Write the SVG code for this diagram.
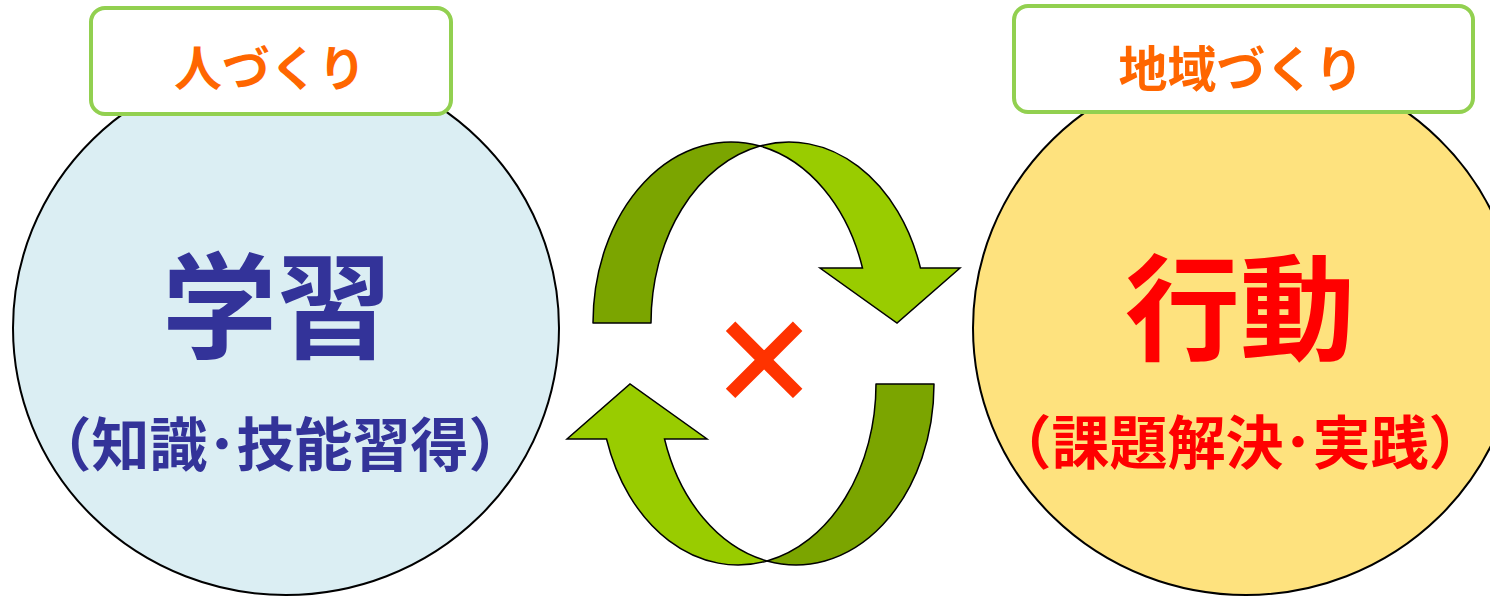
<svg xmlns="http://www.w3.org/2000/svg" width="1490" height="598" viewBox="0 0 1490 598">
<defs>
<style>
.circle{stroke:#000;stroke-width:2}
.label-box{fill:#fff;stroke:#92D050;stroke-width:4}
.jp{font-family:"Noto Sans CJK JP","Noto Sans CJK SC",sans-serif;font-weight:bold;text-anchor:middle;dominant-baseline:central}
.tag{font-size:48px;fill:#FF6600}
.big{font-size:115px}
.sub{font-size:58px}
.navy{fill:#333399}
.red{fill:#FF0000}
.dark{fill:#7BA500;stroke:#000;stroke-width:1.5;stroke-linejoin:round}
.light{fill:#99CC00;stroke:#000;stroke-width:1.5;stroke-linejoin:miter}
</style>
<g id="arrowShape">
<path class="dark" d="M 593,323 A 138 181 0 0 1 760,146.04 A 138 181 0 0 0 651,323 Z"/>
<path class="light" d="M 760,146.04 A 138 181 0 0 1 920.47,268 L 960,268 L 897,323 L 820,268 L 862.47,268 A 138 181 0 0 0 760,146.04 Z"/>
</g>
</defs>
<g id="node-learning">
<ellipse class="circle" cx="286" cy="328" rx="273" ry="267" fill="#DBEEF3"/>
<text class="jp big navy" x="277" y="299">学習</text>
<text class="jp sub navy" x="280" y="441">（知識･技能習得）</text>
</g>
<g id="node-action">
<ellipse class="circle" cx="1246" cy="328" rx="273" ry="267" fill="#FEE27E"/>
<text class="jp big red" x="1240" y="301">行動</text>
<text class="jp sub red" x="1240" y="439">（課題解決･実践）</text>
</g>
<g id="node-hitozukuri">
<rect class="label-box" x="91" y="8" width="360" height="106" rx="14"/>
<text class="jp tag" x="270" y="65">人づくり</text>
</g>
<g id="node-chiikizukuri">
<rect class="label-box" x="1014" y="6" width="459" height="106" rx="14"/>
<text class="jp tag" x="1241" y="65" style="font-size:49px">地域づくり</text>
</g>
<g id="node-times">
<text class="jp" x="764" y="354" font-size="112" fill="#FF3300" stroke="#FF3300" stroke-width="2">×</text>
</g>
<g id="connectors">
<use href="#arrowShape"/>
<use href="#arrowShape" transform="rotate(180 763.5 353.5)"/>
</g>
</svg>
